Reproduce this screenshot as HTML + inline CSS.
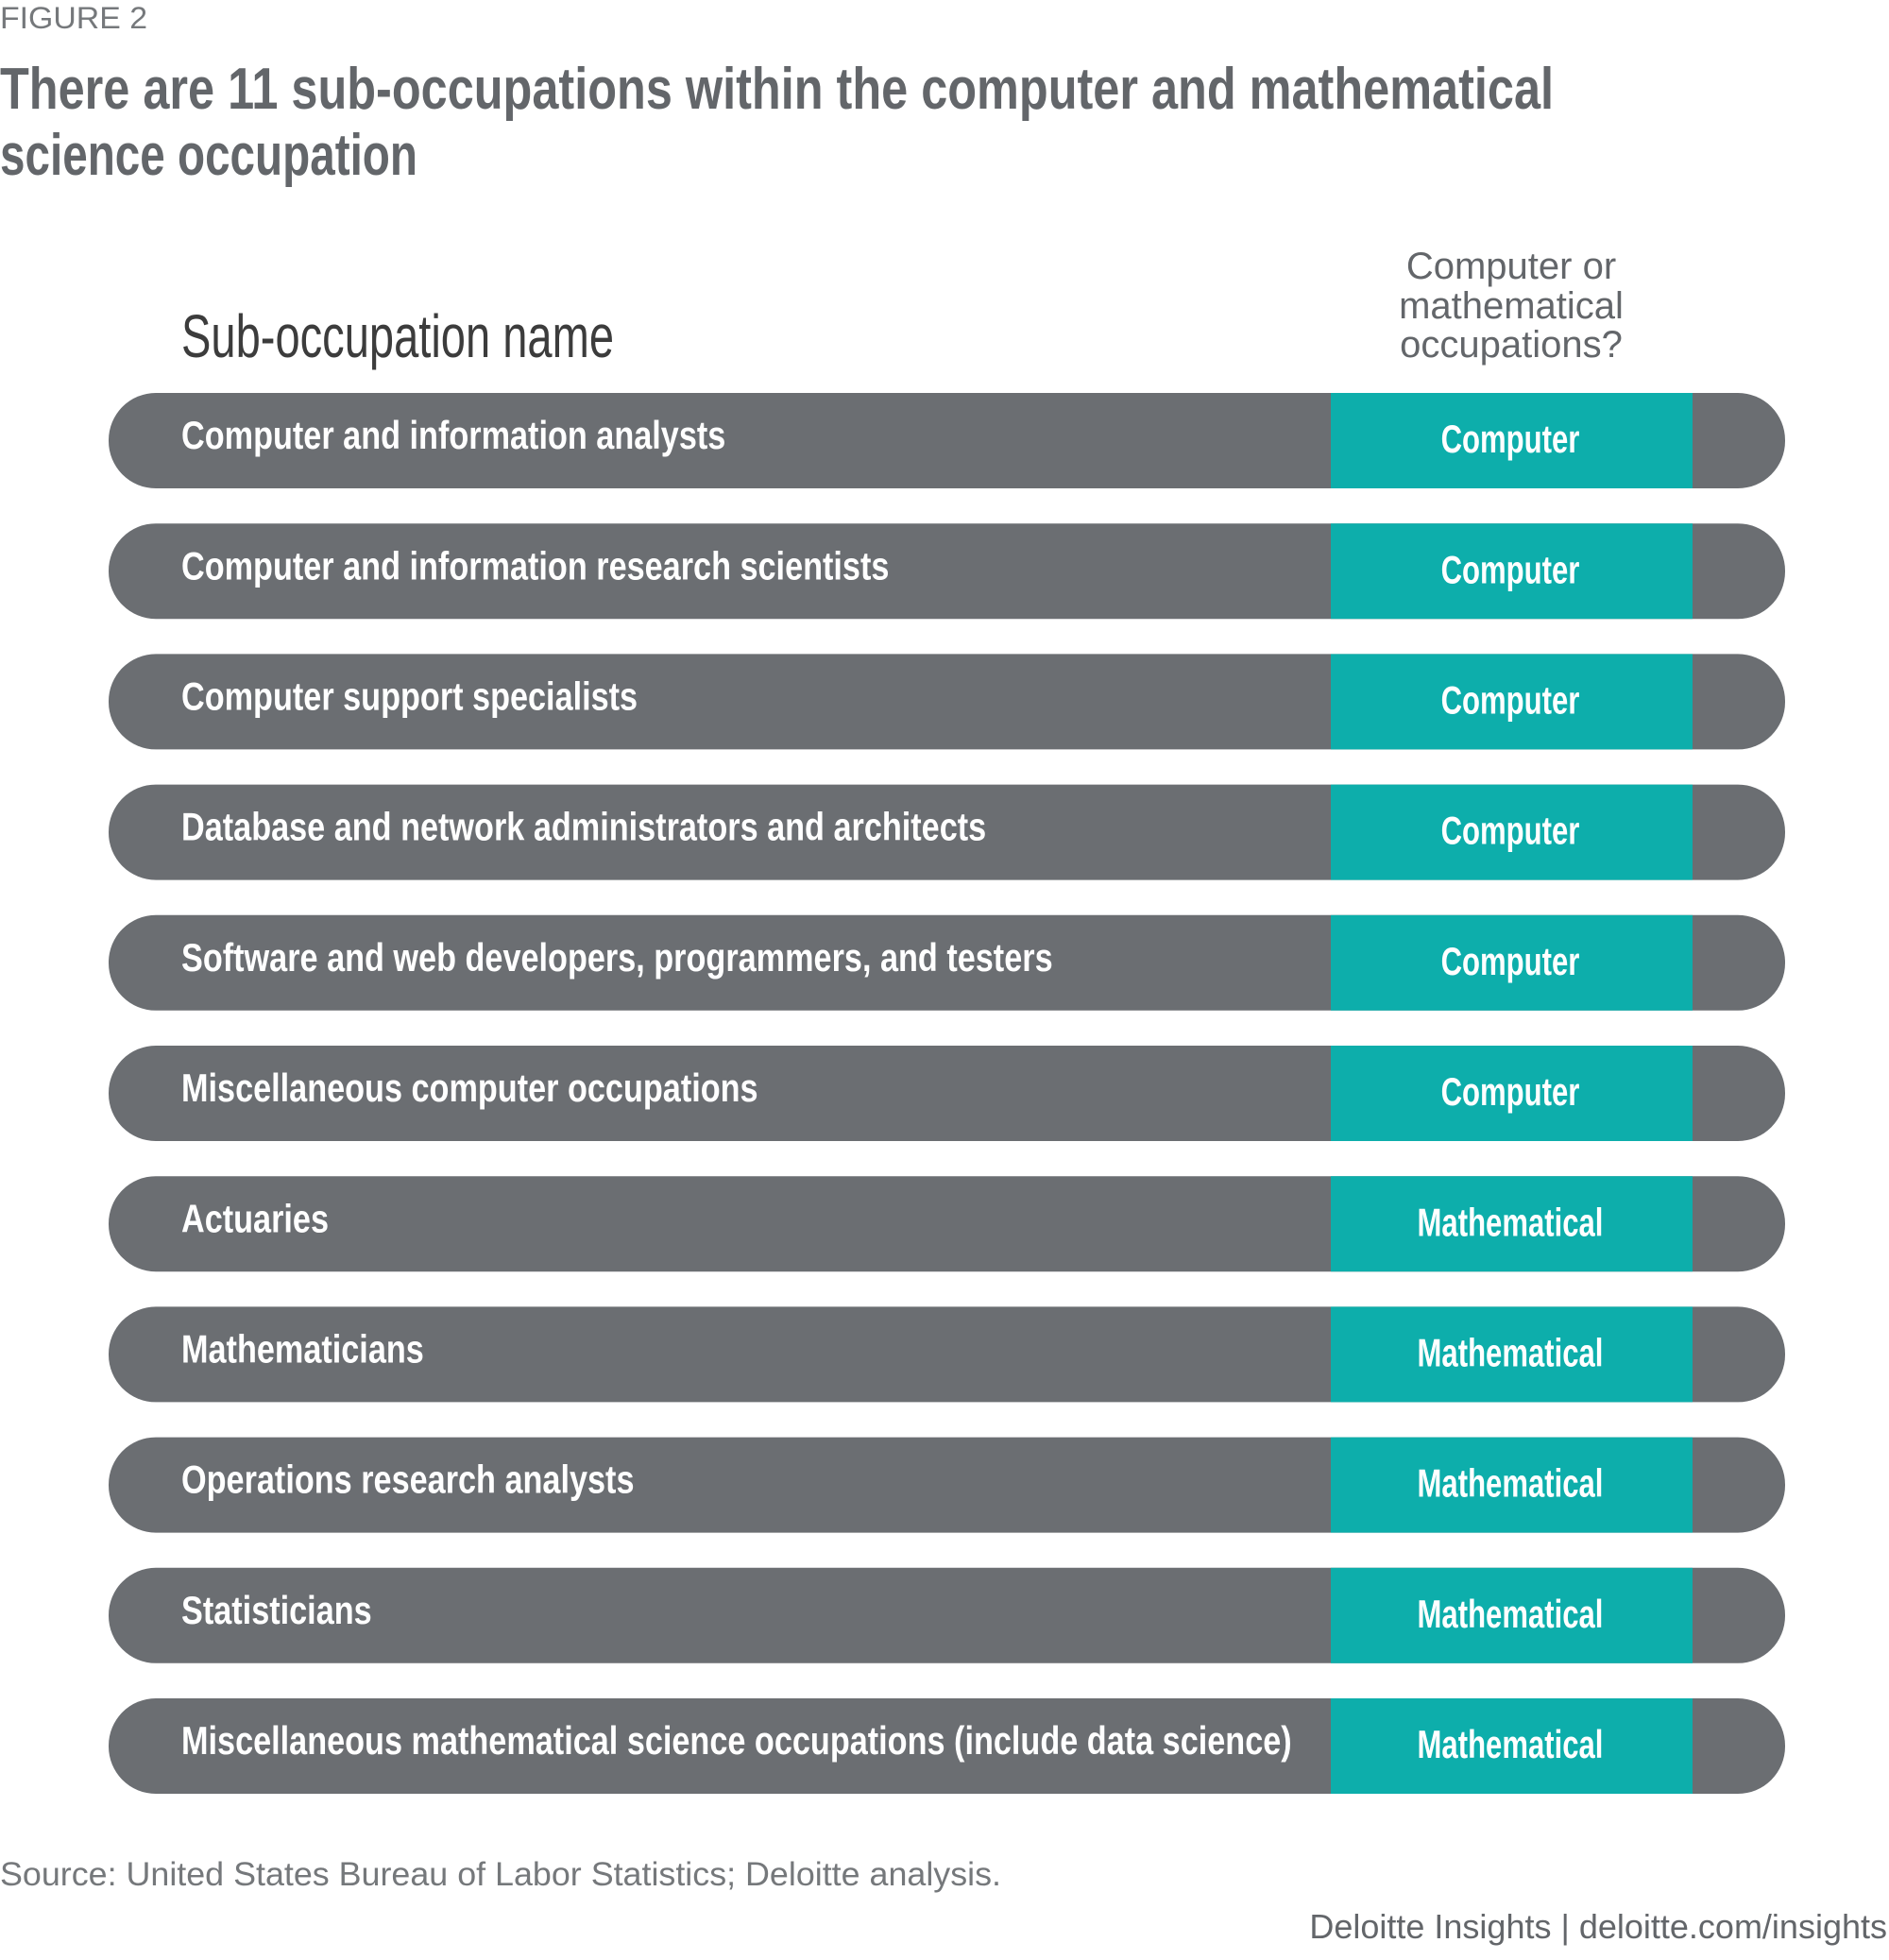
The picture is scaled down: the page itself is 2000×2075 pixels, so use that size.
<!DOCTYPE html>
<html><head><meta charset="utf-8"><style>
body{margin:0;background:#fff;width:2000px;height:2070px;overflow:hidden;}
svg text{font-family:"Liberation Sans",sans-serif;}
</style></head><body>
<svg id="chart" width="2000" height="2070" viewBox="0 0 2000 2070">
<text x="0" y="30" font-size="32" fill="#75787b" textLength="156" lengthAdjust="spacingAndGlyphs">FIGURE 2</text>
<text font-size="62" font-weight="bold" fill="#63666a"><tspan x="0" y="115" textLength="1645" lengthAdjust="spacingAndGlyphs">There are 11 sub-occupations within the computer and mathematical</tspan><tspan x="0" y="185" textLength="442" lengthAdjust="spacingAndGlyphs">science occupation</tspan></text>
<text x="192" y="378" font-size="64" fill="#3c3c3c" textLength="458" lengthAdjust="spacingAndGlyphs">Sub-occupation name</text>
<text font-size="40" fill="#63666a" text-anchor="middle"><tspan x="1600" y="295">Computer or</tspan><tspan x="1600" y="337">mathematical</tspan><tspan x="1600" y="378">occupations?</tspan></text>
<g id="rows"></g>
<text x="0" y="1996" font-size="35" fill="#75787b" textLength="1060" lengthAdjust="spacingAndGlyphs">Source: United States Bureau of Labor Statistics; Deloitte analysis.</text>
<text x="1998" y="2052" font-size="36" fill="#63666a" text-anchor="end">Deloitte Insights | deloitte.com/insights</text>
</svg>
<script>
const names = ["Computer and information analysts","Computer and information research scientists","Computer support specialists","Database and network administrators and architects","Software and web developers, programmers, and testers","Miscellaneous computer occupations","Actuaries","Mathematicians","Operations research analysts","Statisticians","Miscellaneous mathematical science occupations (include data science)"];
const types = ["Computer","Computer","Computer","Computer","Computer","Computer","Mathematical","Mathematical","Mathematical","Mathematical","Mathematical"];
const NS="http://www.w3.org/2000/svg";
const g=document.getElementById('rows');
const top0=416, pitch=138.2, h=101;
function mk(tag,attrs){const e=document.createElementNS(NS,tag);for(const k in attrs)e.setAttribute(k,attrs[k]);return e;}
function squeeze(t,r){const w=t.getComputedTextLength();t.setAttribute('textLength',(w*r).toFixed(1));t.setAttribute('lengthAdjust','spacingAndGlyphs');}
names.forEach((n,i)=>{
  const y=top0+i*pitch;
  const grp=mk('g',{});
  
  
  const bar=mk('rect',{x:115,y:y,width:1775,height:h,rx:50,ry:50,fill:'#6b6e72'});
  
  
  const cell=mk('rect',{x:1409,y:y,width:383,height:h,fill:'#0daeab'});
  
  
  const t=mk('text',{x:192,y:y+48,'font-size':42,'font-weight':'bold',fill:'#fff','dominant-baseline':'middle'});
  t.textContent=n;
  
  
  const t2=mk('text',{x:1599,y:y+52,'font-size':42,'font-weight':'bold',fill:'#fff','text-anchor':'middle','dominant-baseline':'middle'});
  t2.textContent=types[i];
  
  
  grp.append(bar,cell,t,t2);g.appendChild(grp);
  squeeze(t,0.815);
  squeeze(t2,0.74);
});
</script>
</body></html>
